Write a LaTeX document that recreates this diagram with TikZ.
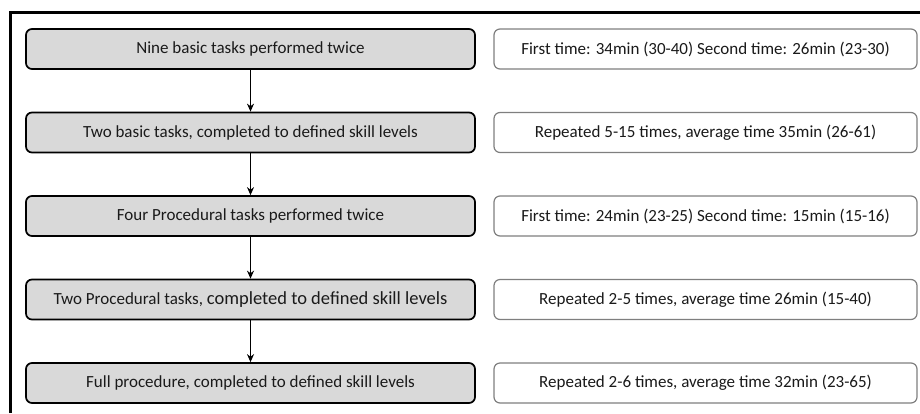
\documentclass[tikz,border=0pt]{standalone}
\usepackage{fontspec}
\setmainfont{Carlito}
\usetikzlibrary{arrows.meta}
\definecolor{stagefill}{HTML}{D9D9D9}
\definecolor{timeline}{HTML}{7F7F7F}
\definecolor{inktext}{HTML}{1A1A1A}
\tikzset{
  stage/.style={draw=black, line width=1.7pt, fill=stagefill, rounded corners=6pt,
    minimum width=449pt, minimum height=40pt, inner sep=0pt, text=inktext,
    font=\fontsize{17}{19}\selectfont},
  timing/.style={draw=timeline, line width=1.2pt, fill=white, rounded corners=6pt,
    minimum width=423pt, minimum height=40pt, inner sep=0pt, text=inktext,
    font=\fontsize{17}{19}\selectfont},
  flow/.style={-{Stealth[length=8pt,width=7pt]}, line width=1.8pt}
}
\begin{document}
\begin{tikzpicture}[x=1pt,y=-1pt]
  \useasboundingbox (0,0) rectangle (920,413);

  % frame
  \draw[line width=3pt] (10,413) -- (10,12) -- (920,12);

  % stages
  \node[stage] (basic) at (250.5,49) {Nine basic tasks performed twice};
  \node[stage] (basicskill) at (250.5,132.5) {Two basic tasks, completed to defined skill levels};
  \node[stage] (proc) at (250.5,216) {Four Procedural tasks performed twice};
  \node[stage] (procskill) at (250.5,299.5) {Two Procedural tasks, {\fontsize{18.5}{20}\selectfont completed to defined skill levels}};
  \node[stage] (full) at (250.5,383) {Full procedure, completed to defined skill levels};

  % timings
  \node[timing] (basict) at (705.5,49) {First time: 34min (30-40) Second time: 26min (23-30)};
  \node[timing] (basicskillt) at (705.5,132.5) {Repeated 5-15 times, average time 35min (26-61)};
  \node[timing] (proct) at (705.5,216) {First time: 24min (23-25) Second time: 15min (15-16)};
  \node[timing] (procskillt) at (705.5,299.5) {Repeated 2-5 times, average time 26min (15-40)};
  \node[timing] (fullt) at (705.5,383) {Repeated 2-6 times, average time 32min (23-65)};

  % arrows
  \draw[flow] (basic) -- (basicskill);
  \draw[flow] (basicskill) -- (proc);
  \draw[flow] (proc) -- (procskill);
  \draw[flow] (procskill) -- (full);
\end{tikzpicture}
\end{document}
